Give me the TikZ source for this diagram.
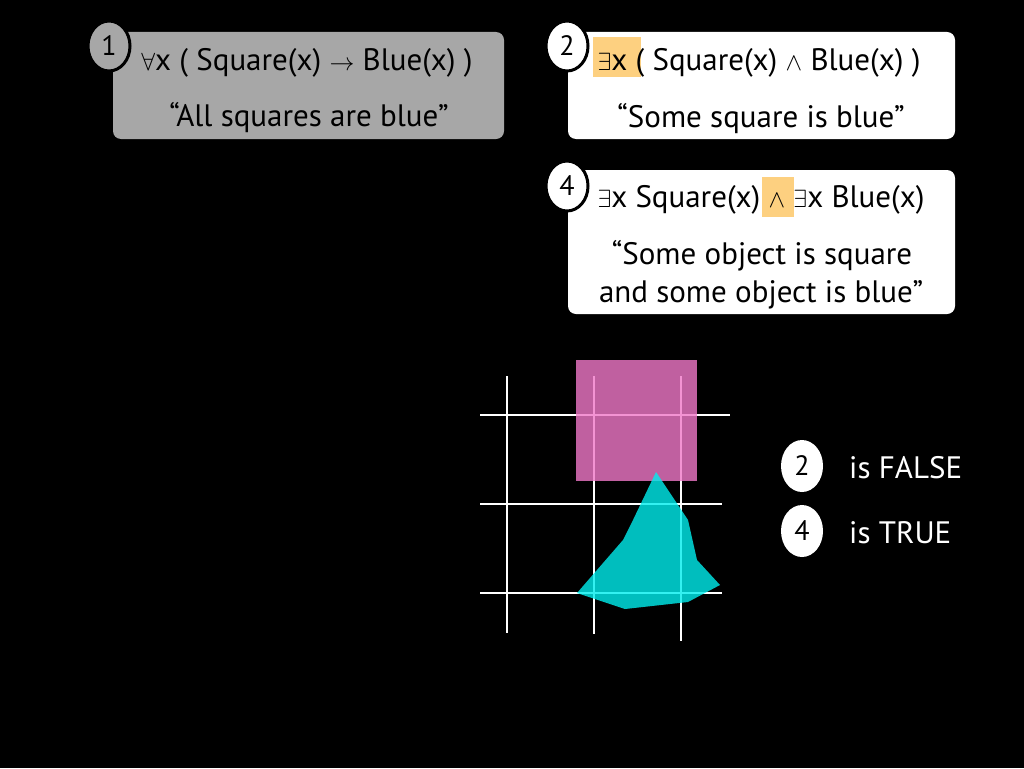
\documentclass[tikz,border=0pt]{standalone}
\usepackage{fontspec}
\setmainfont{PT Sans}
\usetikzlibrary{shapes.geometric}
\begin{document}
\begin{tikzpicture}[x=1pt,y=-1pt,
  card/.style={rounded corners=8pt},
  badge/.style={ellipse,minimum width=42pt,minimum height=50pt,inner sep=0pt,draw=black,line width=3pt,font=\fontsize{28}{30}\selectfont},
  rbadge/.style={ellipse,minimum width=42pt,minimum height=52pt,inner sep=0pt,fill=white,font=\fontsize{28}{30}\selectfont},
  big/.style={font=\fontsize{31}{36}\selectfont,inner sep=0pt},
  grid/.style={white,line width=2pt},
  hl/.style={fill=hlc}]
\definecolor{cardgray}{HTML}{A7A7A7}
\definecolor{hlc}{HTML}{FDD080}
\definecolor{sqc}{RGB}{241,120,200}
\definecolor{cyc}{RGB}{0,238,238}
\fill[black] (0,0) rectangle (1024,768);
\useasboundingbox (0,0) rectangle (1024,768);
% card 1
\fill[cardgray,card] (113,32) rectangle (504,139);
\node[big] (t1a) at (307,63) {$\forall$x ( Square(x) $\rightarrow$ Blue(x) )};
\node[big] (t1b) at (309,118) {“All squares are blue”};
\node[badge,fill=cardgray] (b1) at (109,46) {1};
% card 2
\fill[white,card] (568,32) rectangle (955,139);
\fill[hl] (593,37) rectangle (641,77);
\node[big] (t2a) at (759,63) {$\exists$x ( Square(x) $\wedge$ Blue(x) )};
\node[big] (t2b) at (761,119) {“Some square is blue”};
\node[badge,fill=white] (b2) at (567,46) {2};
% card 4
\fill[white,card] (568,170) rectangle (955,314);
\fill[hl] (762,177) rectangle (794,217);
\node[big] (t4a) at (761,200) {$\exists$x Square(x) $\wedge$ $\exists$x Blue(x)};
\node[big] (t4b) at (762,256) {“Some object is square};
\node[big] (t4c) at (761,295) {and some object is blue”};
\node[badge,fill=white] (b4) at (567,186) {4};
% grid
\draw[grid] (507,376) -- (507,633);
\draw[grid] (594,376) -- (594,634);
\draw[grid] (681,376) -- (681,641);
\draw[grid] (480,415) -- (730,415);
\draw[grid] (480,504) -- (722,504);
\draw[grid] (480,593) -- (722,593);
% shapes
\fill[sqc,opacity=0.8] (576,360) rectangle (697,481);
\fill[cyc,opacity=0.8] (656,472) -- (688,520) -- (697,560) -- (720,585) -- (688,602) -- (625,609) -- (577,593) -- (623,540) -- (633,520) -- cycle;
% results
\node[rbadge] (r2) at (802,466) {2};
\node[rbadge] (r4) at (802,531) {4};
\node[big,anchor=west,text=white] (f2) at (849,468) {is FALSE};
\node[big,anchor=west,text=white] (f4) at (849,533) {is TRUE};
\end{tikzpicture}
\end{document}
